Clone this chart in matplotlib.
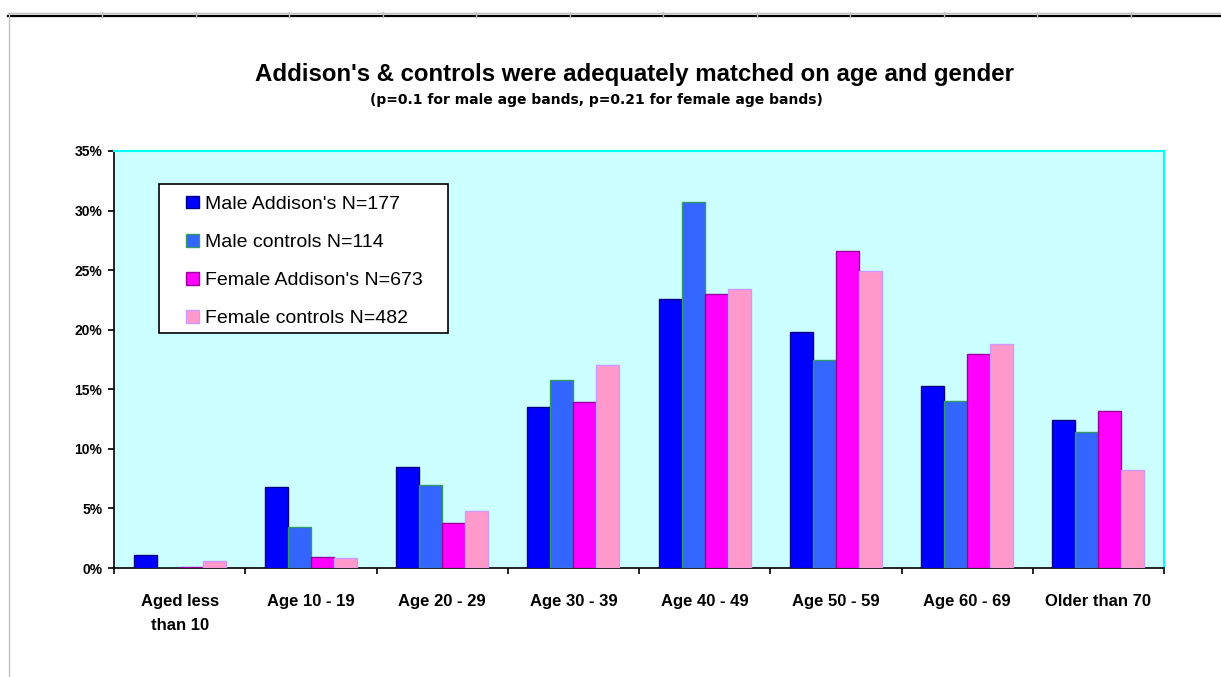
import numpy as np
import matplotlib.pyplot as plt
from matplotlib.lines import Line2D
from matplotlib.patches import Rectangle

plt.rcParams['font.family'] = ['Liberation Sans', 'DejaVu Sans']

age_bands = ["Aged less\nthan 10", "Age 10 - 19", "Age 20 - 29", "Age 30 - 39",
             "Age 40 - 49", "Age 50 - 59", "Age 60 - 69", "Older than 70"]

male_addisons = [1.1, 6.8, 8.5, 13.5, 22.6, 19.8, 15.3, 12.4]
male_controls = [0.0, 3.4, 7.0, 15.8, 30.7, 17.5, 14.0, 11.4]
female_addisons = [0.12, 0.9, 3.8, 13.9, 23.0, 26.6, 18.0, 13.2]
female_controls = [0.6, 0.8, 4.8, 17.0, 23.45, 24.9, 18.8, 8.2]

series = [
    ("Male Addison's N=177", male_addisons, "#0000FF", "#000080"),
    ("Male controls N=114", male_controls, "#3366FF", "#339966"),
    ("Female Addison's N=673", female_addisons, "#FF00FF", "#990099"),
    ("Female controls N=482", female_controls, "#FF99CC", "#CC99FF"),
]

W, H = 1221, 677
fig = plt.figure(figsize=(W / 100, H / 100), dpi=100)
ax = fig.add_axes([114 / W, 109 / H, 1050 / W, 417 / H])
ax.set_facecolor("#CCFFFF")

# sheet gridlines behind the chart object
for y, c, lw in [(664, "#C0C0C0", 1.0), (661, "#000000", 1.6)]:
    fig.add_artist(Line2D([8 / W, 1], [y / H, y / H], color=c, lw=lw,
                          transform=fig.transFigure))
for k in range(12):
    xc = (102 + k * 93.5) / W
    fig.add_artist(Line2D([xc, xc], [660 / H, 665 / H], color="#C0C0C0", lw=1.0,
                          transform=fig.transFigure))
fig.add_artist(Line2D([8.5 / W, 8.5 / W], [0, 664 / H], color="#C0C0C0", lw=1.0,
                      transform=fig.transFigure))

x = np.arange(len(age_bands))
w = 0.175
for i, (label, vals, color, edge) in enumerate(series):
    ax.bar(x + (i - 1.5) * w, vals, width=w, color=color, edgecolor=edge,
           linewidth=1.0, label=label, zorder=3)

ax.set_xlim(-0.5, len(age_bands) - 0.5)
ax.set_ylim(0, 35)
ax.set_yticks(np.arange(0, 36, 5))
ax.set_yticklabels([f"{v}%" for v in range(0, 36, 5)], fontsize=10, fontweight="bold")
ax.set_xticks(x)
ax.set_xticklabels(age_bands, fontsize=12, fontweight="bold", linespacing=1.75)
ax.tick_params(axis="x", length=0, pad=18.5)
ax.set_xticks(np.arange(-0.5, len(age_bands)), minor=True)
ax.tick_params(axis="x", which="minor", length=4.5, width=1.2, direction="out")
ax.tick_params(axis="y", length=4.5, width=1.2, direction="out", pad=4)

for side in ["left", "bottom"]:
    ax.spines[side].set_color("black")
    ax.spines[side].set_linewidth(1.2)
for side in ["top", "right"]:
    ax.spines[side].set_color("#00FFFF")
    ax.spines[side].set_linewidth(1.5)

# legend box drawn separately so the padding can differ per side
ax.add_patch(Rectangle((45 / 1050, 1 - 182 / 417), 289 / 1050, 149 / 417,
                       transform=ax.transAxes, facecolor="white", edgecolor="black",
                       linewidth=1.2, zorder=4))
leg = ax.legend(loc="upper left", bbox_to_anchor=(72 / 1050, 1 - 44.5 / 417),
                fontsize=14, frameon=False, handlelength=0.65, handleheight=0.65,
                handletextpad=0.35, labelspacing=1.07, borderpad=0, borderaxespad=0)
leg.set_zorder(5)

fig.text(634.5 / W, 1 - 75 / H, "Addison's & controls were adequately matched on age and gender",
         ha="center", va="center", fontsize=17.3, fontweight="bold")
fig.text(596.5 / W, 1 - 100 / H, "(p=0.1 for male age bands, p=0.21 for female age bands)",
         ha="center", va="center", fontsize=10, fontweight="bold", family="DejaVu Sans")

fig.savefig("out.png", dpi=100)
